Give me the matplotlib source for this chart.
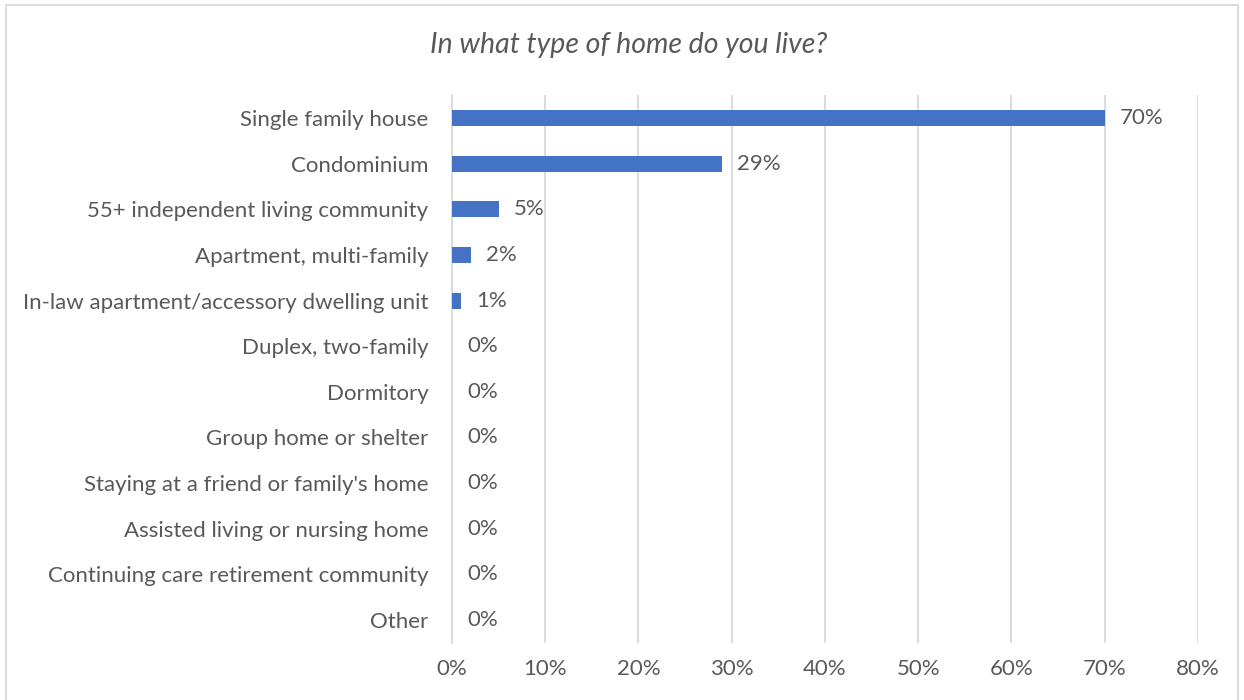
"""Survey bar chart: type of home."""

import matplotlib

matplotlib.use("Agg")
import matplotlib.pyplot as plt
from matplotlib.patches import Rectangle

CATEGORIES = [
    "Single family house",
    "Condominium",
    "55+ independent living community",
    "Apartment, multi-family",
    "In-law apartment/accessory dwelling unit",
    "Duplex, two-family",
    "Dormitory",
    "Group home or shelter",
    "Staying at a friend or family's home",
    "Assisted living or nursing home",
    "Continuing care retirement community",
    "Other",
]
VALUES = [70, 29, 5, 2, 1, 0, 0, 0, 0, 0, 0, 0]
X_TICKS = [0, 10, 20, 30, 40, 50, 60, 70, 80]

BAR_COLOR = "#4472C4"
TEXT_COLOR = "#595959"
GRID_COLOR = "#D9D9D9"

plt.rcParams["font.family"] = ["Lato", "DejaVu Sans"]

fig = plt.figure(figsize=(12.44, 7.0), dpi=100)
ax = fig.add_axes([0.3633, 0.0817, 0.5997, 0.7823])

ys = list(range(len(CATEGORIES)))
ax.barh(ys, VALUES, height=0.35, color=BAR_COLOR, zorder=3)
for y, v in zip(ys, VALUES):
    ax.annotate(f"{v}%", (v, y), xytext=(15, 0), textcoords="offset pixels",
                ha="left", va="center", fontsize=16, color=TEXT_COLOR)

ax.set_ylim(len(CATEGORIES) - 0.5, -0.5)
ax.set_xlim(0, 80)
ax.set_yticks(ys)
ax.set_yticklabels(CATEGORIES)
ax.set_xticks(X_TICKS)
ax.set_xticklabels([f"{t}%" for t in X_TICKS])
ax.tick_params(axis="y", length=0, pad=17, labelsize=16, labelcolor=TEXT_COLOR)
ax.tick_params(axis="x", length=0, pad=12, labelsize=16, labelcolor=TEXT_COLOR)
ax.grid(axis="x", color=GRID_COLOR, linewidth=1.3, zorder=0)
for side in ["top", "right", "bottom"]:
    ax.spines[side].set_visible(False)
ax.spines["left"].set_color(GRID_COLOR)
ax.spines["left"].set_linewidth(1.3)

fig.text(0.505, 0.935, "In what type of home do you live?", ha="center", va="center",
         fontsize=20.5, style="italic", color=TEXT_COLOR)

fig.patches.append(Rectangle((6 / 1244, -0.02), 1232 / 1244, 1.013,
                             transform=fig.transFigure, fill=False,
                             edgecolor=GRID_COLOR, linewidth=1.3))

fig.savefig("out.png", dpi=100)
